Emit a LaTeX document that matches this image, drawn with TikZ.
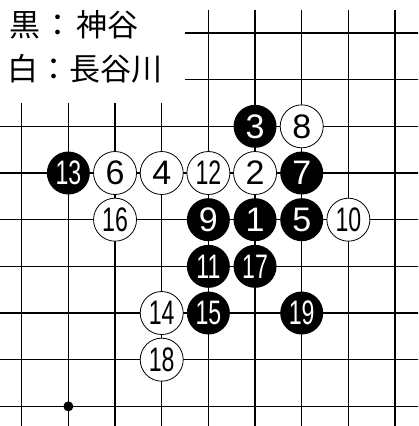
\documentclass[tikz,border=0pt]{standalone}
\usepackage{fontspec}
\setmainfont{Liberation Sans}
\newfontfamily\numfont{Liberation Sans}
\newfontfamily\jpfont{Noto Sans CJK JP}
\newcommand{\twodig}[1]{\scalebox{0.68}[1]{#1}}
\begin{document}
\begin{tikzpicture}[x=1pt,y=-1pt,
  gridline/.style={line width=1.5pt},
  stone/.style={circle, minimum size=43pt, inner sep=0pt, font=\numfont\fontsize{34}{34}\selectfont},
  bstone/.style={stone, fill=black, text=white},
  wstone/.style={stone, fill=white, draw=black, line width=0.8pt, text=black},
  label/.style={anchor=west, inner sep=0pt, font=\jpfont\fontsize{31}{31}\selectfont}
]
\useasboundingbox (0,0) rectangle (418,426);
\begin{scope}
\clip (0,0) rectangle (418,426);
\begin{scope}[shift={(21.7pt,-33pt)}, x=46.67pt, y=-46.67pt]
  % vertical lines
  \foreach \c in {0,...,3} \draw[gridline] (\c,1.5) -- (\c,8.6);
  \foreach \c in {4,...,8} \draw[gridline] (\c,-0.5) -- (\c,8.6);
  % horizontal lines
  \foreach \r in {0,1} \draw[gridline] (3.5,\r) -- (8.6,\r);
  \foreach \r in {2,...,8} \draw[gridline] (-0.6,\r) -- (8.6,\r);
  % hoshi
  \fill (1,8) circle[radius=5pt];
  % stones
  \node[bstone] (s1)  at (5,4) {1};
  \node[wstone] (s2)  at (5,3) {2};
  \node[bstone] (s3)  at (5,2) {3};
  \node[wstone] (s4)  at (3,3) {4};
  \node[bstone] (s5)  at (6,4) {5};
  \node[wstone] (s6)  at (2,3) {6};
  \node[bstone] (s7)  at (6,3) {7};
  \node[wstone] (s8)  at (6,2) {8};
  \node[bstone] (s9)  at (4,4) {9};
  \node[wstone] (s10) at (7,4) {\twodig{10}};
  \node[bstone] (s11) at (4,5) {\twodig{11}};
  \node[wstone] (s12) at (4,3) {\twodig{12}};
  \node[bstone] (s13) at (1,3) {\twodig{13}};
  \node[wstone] (s14) at (3,6) {\twodig{14}};
  \node[bstone] (s15) at (4,6) {\twodig{15}};
  \node[wstone] (s16) at (2,4) {\twodig{16}};
  \node[bstone] (s17) at (5,5) {\twodig{17}};
  \node[wstone] (s18) at (3,7) {\twodig{18}};
  \node[bstone] (s19) at (6,6) {\twodig{19}};
\end{scope}
\end{scope}
\node[label] (blackname) at (9,25) {黒\kern2pt：\kern3pt神谷};
\node[label] (whitename) at (7,69) {白：長谷川};
\end{tikzpicture}
\end{document}
